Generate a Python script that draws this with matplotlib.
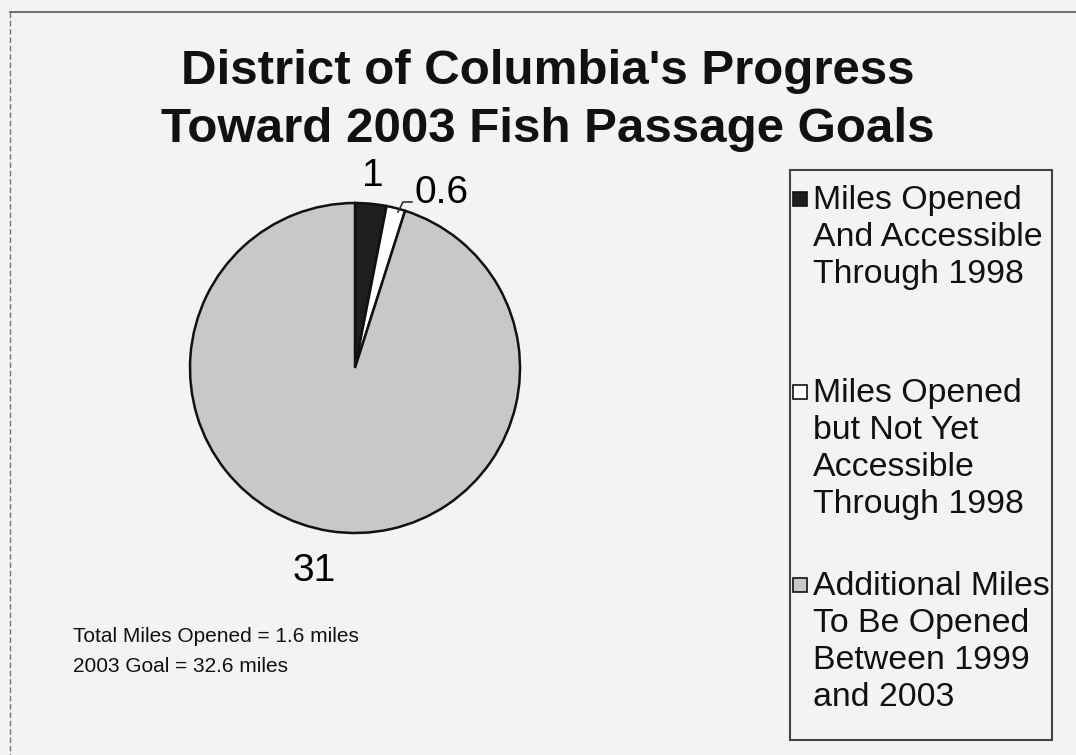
import matplotlib
matplotlib.use("Agg")
import matplotlib.pyplot as plt
from matplotlib.patches import Rectangle
from matplotlib.lines import Line2D

# slice data (clockwise from 12 o'clock)
miles = [1, 0.6, 31]
slice_labels = ["1", "0.6", "31"]
slice_colors = ["#1e1e1e", "#ffffff", "#c8c8c8"]
legend_texts = [
    "Miles Opened\nAnd Accessible\nThrough 1998",
    "Miles Opened\nbut Not Yet\nAccessible\nThrough 1998",
    "Additional Miles\nTo Be Opened\nBetween 1999\nand 2003",
]
title_lines = ["District of Columbia's Progress", "Toward 2003 Fish Passage Goals"]
note_lines = ["Total Miles Opened = 1.6 miles", "2003 Goal = 32.6 miles"]

plt.rcParams['font.family'] = ['Liberation Sans', 'DejaVu Sans']

W, H = 1076, 755
fig = plt.figure(figsize=(W / 100, H / 100), dpi=100)
fig.patch.set_facecolor("#f3f3f3")

def fx(px):
    return px / W

def fy(py):
    return 1 - py / H

# outer frame (top and left edges visible in the scan)
fig.add_artist(Line2D([fx(10), 1.0], [fy(12), fy(12)], color="#555555", lw=1.2))
fig.add_artist(Line2D([fx(10), fx(10)], [fy(12), 0.0], color="#777777", lw=1.0, ls=(0, (4, 2))))

# title
fig.text(fx(548), fy(71), title_lines[0], ha="center", va="center",
         fontsize=35.5, fontweight="bold", color="#111111")
fig.text(fx(548), fy(130), title_lines[1], ha="center", va="center",
         fontsize=35.5, fontweight="bold", color="#111111")

# pie
cx, cy, r = 355, 368, 165
ax = fig.add_axes([fx(cx - r), fy(cy + r), 2 * r / W, 2 * r / H])
wedges, _ = ax.pie(miles, colors=slice_colors, startangle=90, counterclock=False,
                   radius=1.0, wedgeprops=dict(edgecolor="#111111", linewidth=1.8))
ax.set_xlim(-1, 1)
ax.set_ylim(-1, 1)
ax.axis("off")

def dx(px):
    return (px - cx) / r

def dy(py):
    return (cy - py) / r

ax.text(dx(373), dy(176), slice_labels[0], ha="center", va="center", fontsize=28, clip_on=False)
ax.text(dx(414), dy(193), slice_labels[1], ha="left", va="center", fontsize=28, clip_on=False)
ax.text(dx(314), dy(571), slice_labels[2], ha="center", va="center", fontsize=28, clip_on=False)
# leader line for the small slice
ax.plot([dx(398), dx(403), dx(412)], [dy(212), dy(202), dy(202)], color="#333333", lw=1.2,
        clip_on=False)

# notes
fig.text(fx(73), fy(636), note_lines[0], ha="left", va="center", fontsize=15, color="#111111")
fig.text(fx(73), fy(667), note_lines[1], ha="left", va="center", fontsize=15, color="#111111")

# legend box
fig.add_artist(Rectangle((fx(790), fy(740)), fx(1052) - fx(790), fy(170) - fy(740),
                         facecolor="none", edgecolor="#444444", lw=1.5))
entry_tops = [199, 392, 585]
sq = 14
for top, txt, col in zip(entry_tops, legend_texts, slice_colors):
    fig.add_artist(Rectangle((fx(800 - sq / 2), fy(top + sq / 2)), sq / W, sq / H,
                             facecolor=col, edgecolor="#111111", lw=1.2))
    fig.text(fx(813), fy(top - 14), txt, ha="left", va="top", fontsize=24.4,
             linespacing=1.25, color="#111111")

fig.savefig("out.png", dpi=100, facecolor=fig.get_facecolor())
